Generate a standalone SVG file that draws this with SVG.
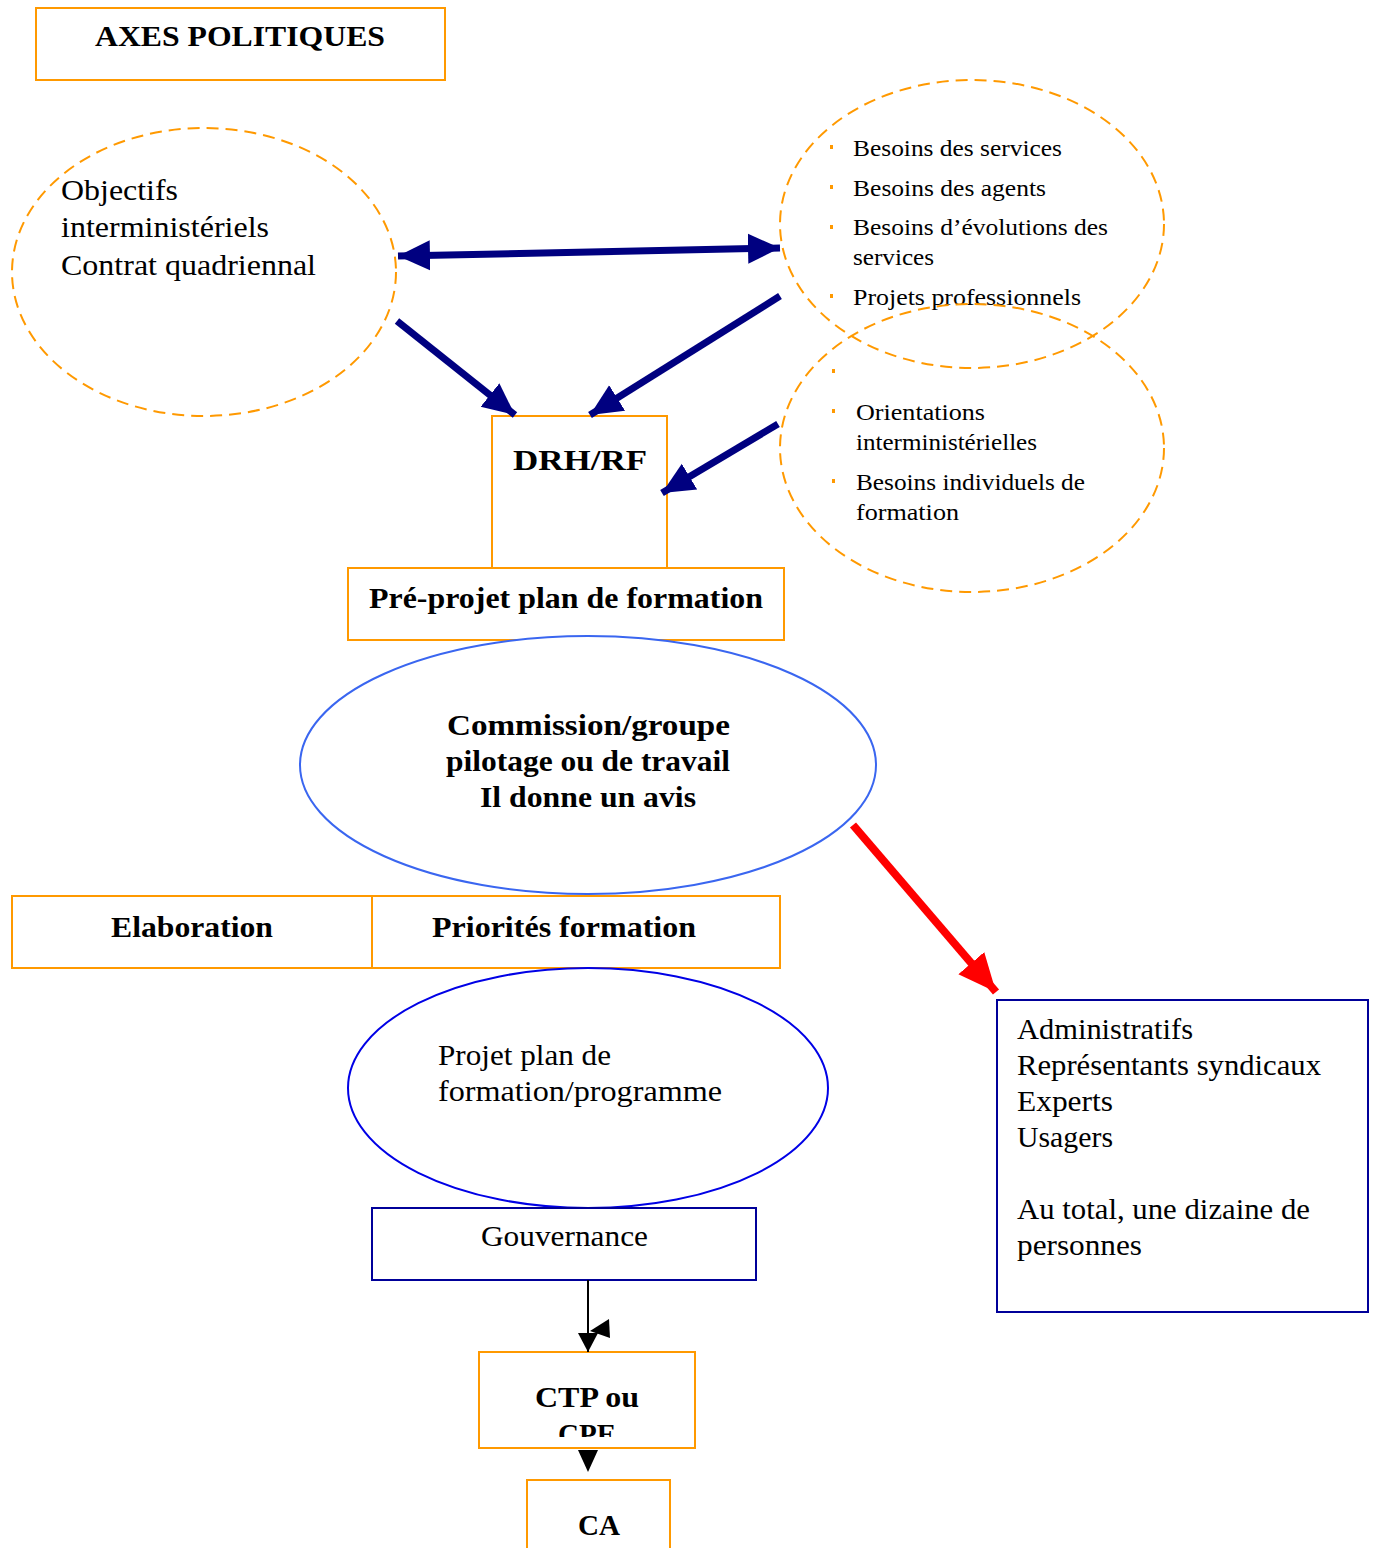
<svg xmlns="http://www.w3.org/2000/svg" width="1376" height="1548" viewBox="0 0 1376 1548">
<style>
text{font-family:"Liberation Serif","Times New Roman",serif;fill:#000}
.b{font-weight:bold}
.ob{fill:#fff;stroke:#ff9900;stroke-width:2}
.od{fill:none;stroke:#ff9900;stroke-width:2;stroke-dasharray:12 7}
.nb{fill:#fff;stroke:#000099;stroke-width:2}
.nav{stroke:#000080;stroke-width:7;fill:none}
.bul{fill:#ff9900}
</style>
<defs>
<marker id="hn" markerUnits="userSpaceOnUse" markerWidth="34" markerHeight="34" viewBox="0 0 34 34" refX="32" refY="17" orient="auto-start-reverse">
<path d="M0,2 L32,17 L0,32 Z" fill="#000080"/>
</marker>
<marker id="hr" markerUnits="userSpaceOnUse" markerWidth="40" markerHeight="40" viewBox="0 0 40 40" refX="38" refY="20" orient="auto">
<path d="M0,3 L38,20 L0,37 Z" fill="#ff0000"/>
</marker>
<marker id="hb" markerUnits="userSpaceOnUse" markerWidth="20" markerHeight="24" viewBox="0 0 20 24" refX="19" refY="10" orient="auto">
<path d="M0,0 L19,10 L0,20 Z" fill="#000"/>
</marker>
<clipPath id="ctpclip"><rect x="479" y="1352" width="216" height="85"/></clipPath>
</defs>

<g id="axes">
<rect class="ob" x="36" y="8" width="409" height="72"/>
<text class="b" x="95" y="46" font-size="29" textLength="290" lengthAdjust="spacingAndGlyphs">AXES POLITIQUES</text>
</g>

<g id="objectifs">
<ellipse class="od" cx="204" cy="272" rx="192" ry="144"/>
<text x="61" y="200" font-size="30" textLength="117" lengthAdjust="spacingAndGlyphs">Objectifs</text>
<text x="61" y="237" font-size="30" textLength="208" lengthAdjust="spacingAndGlyphs">interministériels</text>
<text x="61" y="275" font-size="30" textLength="255" lengthAdjust="spacingAndGlyphs">Contrat quadriennal</text>
</g>

<g id="besoins">
<ellipse class="od" cx="972" cy="224" rx="192" ry="144"/>
<rect class="bul" x="830" y="145" width="3" height="4"/>
<rect class="bul" x="830" y="185" width="3" height="4"/>
<rect class="bul" x="830" y="225" width="3" height="4"/>
<rect class="bul" x="830" y="294" width="3" height="4"/>
<text x="853" y="156" font-size="23" textLength="209" lengthAdjust="spacingAndGlyphs">Besoins des services</text>
<text x="853" y="196" font-size="23" textLength="193" lengthAdjust="spacingAndGlyphs">Besoins des agents</text>
<text x="853" y="235" font-size="23" textLength="255" lengthAdjust="spacingAndGlyphs">Besoins d’évolutions des</text>
<text x="853" y="265" font-size="23" textLength="81" lengthAdjust="spacingAndGlyphs">services</text>
<text x="853" y="305" font-size="23" textLength="228" lengthAdjust="spacingAndGlyphs">Projets professionnels</text>
</g>

<g id="orientations">
<ellipse class="od" cx="972" cy="448" rx="192" ry="144"/>
<rect class="bul" x="832" y="369" width="3" height="4"/>
<rect class="bul" x="832" y="409" width="3" height="4"/>
<rect class="bul" x="832" y="479" width="3" height="4"/>
<text x="856" y="420" font-size="23" textLength="129" lengthAdjust="spacingAndGlyphs">Orientations</text>
<text x="856" y="450" font-size="23" textLength="181" lengthAdjust="spacingAndGlyphs">interministérielles</text>
<text x="856" y="490" font-size="23" textLength="229" lengthAdjust="spacingAndGlyphs">Besoins individuels de</text>
<text x="856" y="520" font-size="23" textLength="103" lengthAdjust="spacingAndGlyphs">formation</text>
</g>

<g id="drh">
<rect class="ob" x="492" y="416" width="175" height="152"/>
<text class="b" x="513" y="470" font-size="29" textLength="134" lengthAdjust="spacingAndGlyphs">DRH/RF</text>
</g>

<g id="preprojet">
<rect class="ob" x="348" y="568" width="436" height="72"/>
<text class="b" x="369" y="608" font-size="29" textLength="394" lengthAdjust="spacingAndGlyphs">Pré-projet plan de formation</text>
</g>

<g id="commission">
<ellipse cx="588" cy="765" rx="288" ry="129" fill="#fff" stroke="#3a66f0" stroke-width="2"/>
<text class="b" x="447" y="735" font-size="29" textLength="283" lengthAdjust="spacingAndGlyphs">Commission/groupe</text>
<text class="b" x="446" y="771" font-size="29" textLength="284" lengthAdjust="spacingAndGlyphs">pilotage ou de travail</text>
<text class="b" x="480" y="807" font-size="29" textLength="216" lengthAdjust="spacingAndGlyphs">Il donne un avis</text>
</g>

<g id="elaboration">
<rect class="ob" x="12" y="896" width="360" height="72"/>
<text class="b" x="111" y="937" font-size="29" textLength="162" lengthAdjust="spacingAndGlyphs">Elaboration</text>
</g>

<g id="priorites">
<rect class="ob" x="372" y="896" width="408" height="72"/>
<text class="b" x="432" y="937" font-size="29" textLength="264" lengthAdjust="spacingAndGlyphs">Priorités formation</text>
</g>

<g id="projet">
<ellipse cx="588" cy="1088" rx="240" ry="120" fill="#fff" stroke="#0000e6" stroke-width="2"/>
<text x="438" y="1065" font-size="29" textLength="173" lengthAdjust="spacingAndGlyphs">Projet plan de</text>
<text x="438" y="1101" font-size="29" textLength="284" lengthAdjust="spacingAndGlyphs">formation/programme</text>
</g>

<g id="gouvernance">
<rect class="nb" x="372" y="1208" width="384" height="72"/>
<text x="481" y="1246" font-size="29" textLength="167" lengthAdjust="spacingAndGlyphs">Gouvernance</text>
</g>

<g id="ctp">
<rect class="ob" x="479" y="1352" width="216" height="96"/>
<g clip-path="url(#ctpclip)">
<text class="b" x="535" y="1407" font-size="29" textLength="104" lengthAdjust="spacingAndGlyphs">CTP ou</text>
<text class="b" x="587" y="1444" font-size="29" text-anchor="middle">CPE</text>
</g>
</g>

<g id="ca">
<rect class="ob" x="527" y="1480" width="143" height="80"/>
<text class="b" x="578" y="1535" font-size="29" textLength="42" lengthAdjust="spacingAndGlyphs">CA</text>
</g>

<g id="membres">
<rect class="nb" x="997" y="1000" width="371" height="312"/>
<text x="1017" y="1039" font-size="29" textLength="176" lengthAdjust="spacingAndGlyphs">Administratifs</text>
<text x="1017" y="1075" font-size="29" textLength="304" lengthAdjust="spacingAndGlyphs">Représentants syndicaux</text>
<text x="1017" y="1111" font-size="29" textLength="96" lengthAdjust="spacingAndGlyphs">Experts</text>
<text x="1017" y="1147" font-size="29" textLength="96" lengthAdjust="spacingAndGlyphs">Usagers</text>
<text x="1017" y="1219" font-size="29" textLength="293" lengthAdjust="spacingAndGlyphs">Au total, une dizaine de</text>
<text x="1017" y="1255" font-size="29" textLength="125" lengthAdjust="spacingAndGlyphs">personnes</text>
</g>

<g id="connectors">
<line class="nav" x1="398" y1="256" x2="780" y2="248" marker-start="url(#hn)" marker-end="url(#hn)"/>
<line class="nav" x1="397" y1="321" x2="515" y2="415" marker-end="url(#hn)"/>
<line class="nav" x1="780" y1="296" x2="590" y2="415" marker-end="url(#hn)"/>
<line class="nav" x1="778" y1="424" x2="662" y2="493" marker-end="url(#hn)"/>
<line x1="853" y1="825" x2="996" y2="992" stroke="#ff0000" stroke-width="8" marker-end="url(#hr)"/>
<line x1="588" y1="1280" x2="588" y2="1352" stroke="#000" stroke-width="2" marker-end="url(#hb)"/>
<polygon points="590,1331 609,1319 610,1338" fill="#000"/>
<polygon points="578,1450 598,1450 588,1472" fill="#000"/>
</g>
</svg>
